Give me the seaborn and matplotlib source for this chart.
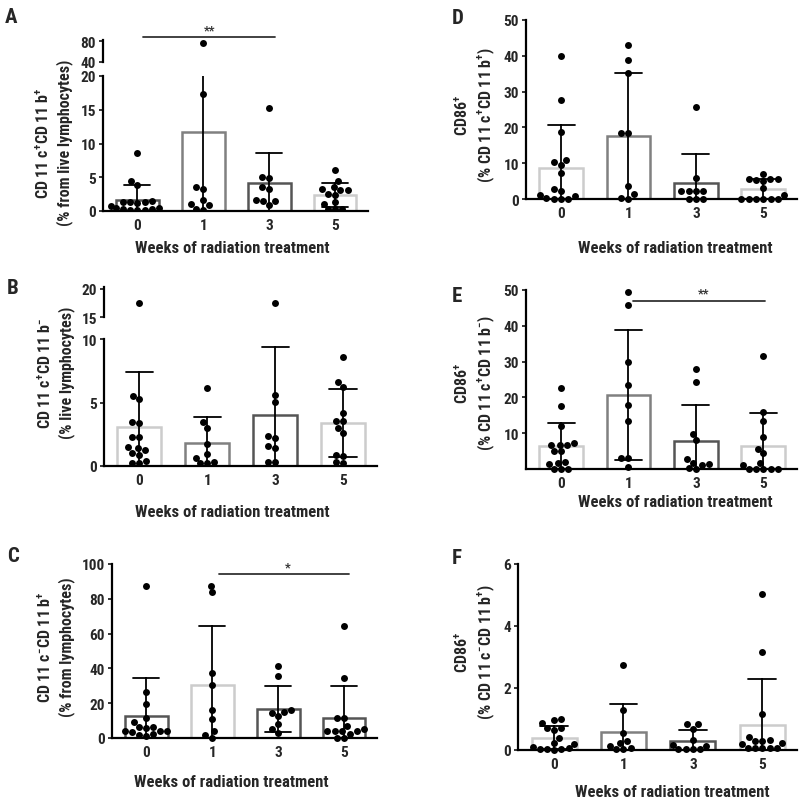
import warnings
import pandas as pd
import matplotlib
matplotlib.use("Agg")
import matplotlib.pyplot as plt
import seaborn as sns
from matplotlib import font_manager

warnings.filterwarnings("ignore")

weeks = ["0", "1", "3", "5"]

# values per week (0, 1, 3, 5)
a_vals = [
    [8.6, 4.4, 3.9, 1.5, 1.4, 1.3, 1.4, 1.2, 0.8, 0.5, 0.3, 0.2, 0.2, 0.3, 0.5, 0.1],
    [77, 17.4, 3.2, 3.5, 1.7, 0.9, 1.1, 0.2, 0.3],
    [15.2, 4.95, 5.05, 3.5, 3.2, 1.5, 1.7, 1.5, 0.85],
    [6.1, 4.45, 3.6, 3.1, 3.1, 3.2, 2.4, 2.5, 1.3, 1.1, 0.25, 0.25, 0.25],
]
b_vals = [
    [17.4, 5.26, 5.5, 3.5, 3.35, 2.3, 2.3, 1.5, 1.45, 1.25, 1.05, 0.9, 0.4, 0.2, 0.2],
    [6.18, 3.47, 3.0, 1.7, 0.92, 0.66, 0.3, 0.2, 0.2],
    [17.4, 5.6, 5.05, 2.4, 2.2, 1.6, 1.4, 0.3, 0.3],
    [8.6, 6.6, 6.2, 4.2, 3.55, 3.55, 3.0, 2.6, 0.87, 0.8, 0.2, 0.3],
]
c_vals = [
    [87.2, 26.6, 19.5, 11.5, 9.4, 6.5, 6.5, 5.9, 3.8, 4.0, 4.0, 3.2, 1.3, 2.5, 2.0],
    [87.6, 83.7, 37.5, 30.6, 15.9, 11.1, 4.0, 0.2, 1.5],
    [41.1, 35.4, 16.0, 14.8, 14.5, 12.5, 7.8, 5.2, 2.8],
    [64.2, 34.4, 11.5, 11.3, 6.9, 5.0, 4.0, 4.0, 4.0, 4.0, 2.3, 0.2, 0.2],
]
d_vals = [
    [40, 27.7, 18.6, 10.9, 10.3, 9.6, 7.2, 2.8, 2.1, 1.2, 0.9, 0.2, 0.1, 0.1, 0.1],
    [43, 38.9, 35.3, 18.3, 18.4, 3.7, 1.4, 0.0, 0.3],
    [25.6, 5.8, 2.1, 2.1, 2.1, 2.2, 0.0, 0.0, 0.0],
    [7.1, 5.6, 5.6, 5.1, 5.3, 5.5, 3.1, 1.2, 0.0, 0.0, 0.0, 0.0, 0.0, 0.0],
]
e_vals = [
    [22.6, 17.5, 12.1, 7.25, 6.8, 6.8, 6.8, 5.0, 4.9, 1.7, 1.4, 2.0, 0.0, 0.0, 0.0],
    [49.5, 45.8, 30.0, 23.5, 17.9, 13.3, 3.2, 3.2, 0.6],
    [27.9, 24.2, 9.9, 8.1, 2.7, 1.8, 1.2, 1.4, 0.0, 0.3],
    [31.6, 16.0, 13.5, 8.8, 5.6, 4.4, 1.7, 1.2, 0.0, 0.0, 0.0, 0.0, 0.0],
]
f_vals = [
    [1.0, 0.98, 0.86, 0.71, 0.7, 0.66, 0.4, 0.24, 0.2, 0.1, 0.05, 0.03, 0.02, 0.02, 0.01],
    [2.75, 1.29, 0.54, 0.22, 0.28, 0.13, 0.07, 0.02, 0.02],
    [0.83, 0.83, 0.68, 0.33, 0.14, 0.16, 0.02, 0.02, 0.02, 0.02],
    [5.04, 3.16, 1.17, 0.42, 0.32, 0.3, 0.3, 0.22, 0.2, 0.05, 0.05, 0.05, 0.05, 0.05],
]

# bar outline shades
DARK, MID, LIGHT = "#555555", "#808080", "#cccccc"

sns.set_style("ticks")
names = {f.name for f in font_manager.fontManager.ttflist}
family, scale = "Liberation Sans", 0.87
for cand in ["Liberation Sans Narrow", "Roboto Condensed", "Open Sans Condensed"]:
    if cand in names:
        family, scale = cand, 1.0
        break
plt.rcParams["font.family"] = [family, "DejaVu Sans"]
plt.rcParams["font.weight"] = "bold"
plt.rcParams["axes.labelweight"] = "bold"
plt.rcParams["mathtext.fontset"] = "custom"
plt.rcParams["mathtext.rm"] = family
plt.rcParams["mathtext.bf"] = family + ":bold"

TICK_FS = 11 * scale
YLAB_FS = 11.5 * scale
XLAB_FS = 12 * scale

W, H = 800, 803
fig = plt.figure(figsize=(8, 8.03), dpi=100)


def box(x0, y0, x1, y1):
    return [x0 / W, 1 - y1 / H, (x1 - x0) / W, (y1 - y0) / H]


def to_long(vals):
    rows = [(w, v) for w, vs in zip(weeks, vals) for v in vs]
    return pd.DataFrame(rows, columns=["week", "value"])


def style_axis(ax, ylim, yticks, show_x=True):
    ax.set_ylim(*ylim)
    ax.set_yticks(yticks)
    ax.set_xlim(-0.52, 3.5)
    sns.despine(ax=ax)
    for s in ["left", "bottom"]:
        ax.spines[s].set_linewidth(1.6)
        ax.spines[s].set_color("black")
    ax.tick_params(axis="y", length=3, width=1.3, pad=2, labelsize=TICK_FS)
    ax.tick_params(axis="x", length=0, pad=5, labelsize=TICK_FS)
    if not show_x:
        ax.spines["bottom"].set_visible(False)
        ax.set_xticks([])
    ax.set_xlabel("")
    ax.set_ylabel("")


def draw(ax, vals, edges, clip=True):
    df = to_long(vals)
    sns.barplot(data=df, x="week", y="value", order=weeks, estimator="mean",
                errorbar="sd", color="white", width=0.65, capsize=0.4,
                err_kws={"color": "black", "linewidth": 1.3}, linewidth=1.8, ax=ax)
    for patch, ec in zip(ax.patches, edges):
        patch.set_edgecolor(ec)
    sns.swarmplot(data=df, x="week", y="value", order=weeks, color="black",
                  size=5.0, ax=ax, zorder=3, clip_on=clip)


def upper_part(ax, vals, ylim, yticks):
    df = to_long(vals)
    sns.swarmplot(data=df, x="week", y="value", order=weeks, color="black",
                  size=5.0, ax=ax, zorder=3)
    style_axis(ax, ylim, yticks, show_x=False)


def labels(ax, ylab, ylab_xy, xlab_xy):
    ax.set_ylabel(ylab, fontsize=YLAB_FS, linespacing=1.3)
    ax.yaxis.set_label_coords(*ylab_xy)
    ax.set_xlabel("Weeks of radiation treatment", fontsize=XLAB_FS)
    ax.xaxis.set_label_coords(*xlab_xy)


def signif(ax, x0, x1, y, star, xs):
    tr = ax.get_xaxis_transform()
    ax.plot([x0, x1], [y, y], color="#333333", linewidth=1.3, transform=tr, clip_on=False)
    ax.text(xs, y + 0.005, star, transform=tr, ha="center", va="bottom",
            fontsize=9, color="#333333")


# A (broken axis)
axA = fig.add_axes(box(103, 77, 368, 212))
draw(axA, a_vals, [DARK, MID, DARK, LIGHT])
style_axis(axA, (0, 20), [0, 5, 10, 15, 20])
axA_top = fig.add_axes(box(103, 41, 368, 63))
upper_part(axA_top, a_vals, (40, 82), [40, 80])
labels(axA, "CD 11 c$^{\\mathbf{+}}$CD 11 b$^{\\mathbf{+}}$\n(% from live lymphocytes)",
       (-0.115, 0.51), (0.487, -0.215))
signif(axA_top, 0.09, 2.09, 1.14, "**", 1.1)

# B (broken axis)
axB = fig.add_axes(box(104, 340, 377, 467))
draw(axB, b_vals, [LIGHT, MID, DARK, LIGHT])
style_axis(axB, (0, 10), [0, 5, 10])
axB_top = fig.add_axes(box(104, 288, 377, 318))
upper_part(axB_top, b_vals, (15, 20.3), [15, 20])
labels(axB, "CD 11 c$^{\\mathbf{+}}$CD 11 b$^{\\mathbf{-}}$\n(% live lymphocytes)",
       (-0.106, 0.74), (0.47, -0.30))

# C
axC = fig.add_axes(box(112, 565, 377, 739))
draw(axC, c_vals, [DARK, LIGHT, DARK, DARK], clip=False)
style_axis(axC, (0, 100), [0, 20, 40, 60, 80, 100])
labels(axC, "CD 11 c$^{\\mathbf{-}}$CD 11 b$^{\\mathbf{+}}$\n(% from lymphocytes)",
       (-0.14, 0.53), (0.45, -0.207))
signif(axC, 1.1, 3.07, 0.943, "*", 2.15)

# D
axD = fig.add_axes(box(526, 21, 797, 200))
draw(axD, d_vals, [LIGHT, MID, DARK, LIGHT], clip=False)
style_axis(axD, (0, 50), [0, 10, 20, 30, 40, 50])
labels(axD, "CD86$^{\\mathbf{+}}$\n(% CD 11 c$^{\\mathbf{+}}$CD 11 b$^{\\mathbf{+}}$)",
       (-0.107, 0.475), (0.55, -0.229))

# E
axE = fig.add_axes(box(526, 291, 797, 470))
draw(axE, e_vals, [LIGHT, MID, DARK, LIGHT], clip=False)
style_axis(axE, (0, 50), [10, 20, 30, 40, 50])
labels(axE, "CD86$^{\\mathbf{+}}$\n(% CD 11 c$^{\\mathbf{+}}$CD 11 b$^{\\mathbf{-}}$)",
       (-0.107, 0.486), (0.55, -0.14))
signif(axE, 1.06, 3.03, 0.94, "**", 2.11)

# F
axF = fig.add_axes(box(518, 565, 797, 751))
draw(axF, f_vals, [LIGHT, MID, DARK, LIGHT], clip=False)
style_axis(axF, (0, 6), [0, 2, 4, 6])
labels(axF, "CD86$^{\\mathbf{+}}$\n(% CD 11 c$^{\\mathbf{-}}$CD 11 b$^{\\mathbf{+}}$)",
       (-0.075, 0.53), (0.552, -0.183))

# panel letters
for letter, (px, py) in zip("ABCDEF", [(5, 8), (7, 279), (7, 547), (452, 9), (452, 287), (452, 549)]):
    fig.text(px / W, 1 - py / H, letter, fontsize=15, fontweight="bold", ha="left", va="top")

fig.savefig("out.png", dpi=100)
